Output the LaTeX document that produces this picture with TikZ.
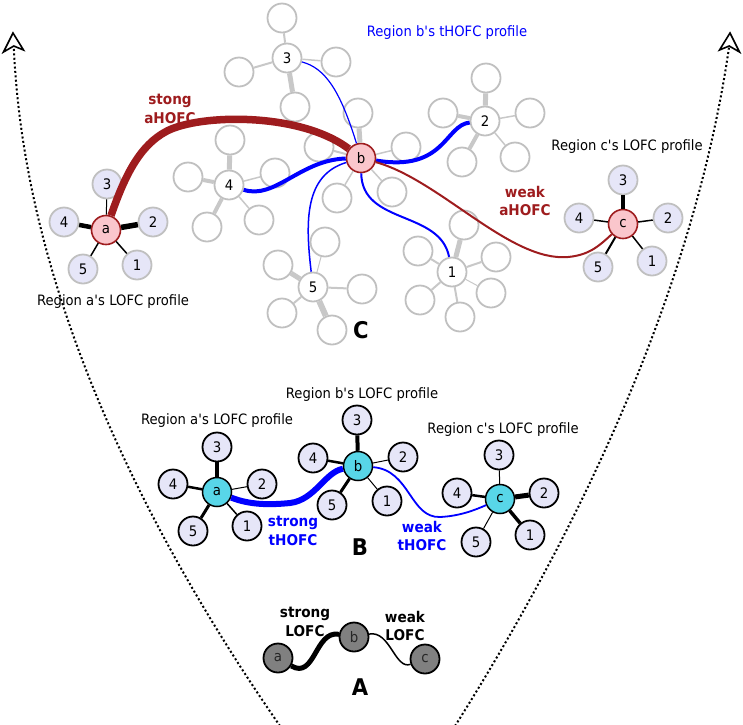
\documentclass[tikz,border=0pt]{standalone}
\usepackage{fontspec}
\setmainfont{DejaVu Sans}[FakeStretch=0.92]
\usetikzlibrary{arrows.meta}
\definecolor{hofcred}{RGB}{158,28,30}
\definecolor{pinkfill}{RGB}{250,198,204}
\definecolor{lav}{RGB}{230,230,248}
\definecolor{satgray}{RGB}{192,192,192}
\definecolor{edgegray}{RGB}{200,200,200}
\definecolor{cyanf}{RGB}{88,214,232}
\definecolor{grayf}{RGB}{128,128,128}
\definecolor{tblue}{RGB}{0,0,255}
\newcommand{\aps}{\textquotesingle}
\tikzset{
 lab/.style={font=\fontsize{14.3}{17}\selectfont, align=center, inner sep=0pt},
 blab/.style={font=\bfseries\fontsize{14.8}{18.5}\selectfont, align=center, inner sep=0pt},
 big/.style={font=\bfseries\fontsize{23}{23}\selectfont, inner sep=0pt},
 nd/.style={circle, minimum size=29pt, inner sep=0pt, font=\fontsize{14.5}{14.5}\selectfont},
 gsat/.style={nd, draw=satgray, line width=1.8pt, fill=white},
 gctr/.style={nd, draw=satgray, line width=1.8pt, fill=white},
 pinkn/.style={nd, draw=hofcred, line width=1.6pt, fill=pinkfill},
 lavC/.style={nd, draw=satgray, line width=1.8pt, fill=lav},
 lavB/.style={nd, draw=black, line width=1.8pt, fill=lav},
 cyann/.style={nd, draw=black, line width=1.5pt, fill=cyanf},
 grayA/.style={nd, draw=black, line width=1.8pt, fill=grayf, text=black!85},
 gedge/.style={draw=edgegray},
 kedge/.style={draw=black},
 dotline/.style={line width=2pt, dash pattern=on 2pt off 2.4pt},
 headshape/.style={line width=1.6pt, line join=miter, fill=white, draw=black}
}
\begin{document}
\begin{tikzpicture}[x=1pt,y=-1pt]
\useasboundingbox (0,0) rectangle (743,724);

% ---- dotted arrows
\coordinate (Lb) at (280,726); \coordinate (Ln) at (13.8,46);
\coordinate (Lt) at (13,33); \coordinate (Lc1) at (3.5,52); \coordinate (Lc2) at (23.5,50);
\draw[dotline] (Lb) .. controls (110,480) and (22,250) .. (Ln);
\draw[headshape] (Lt) -- (Lc1) -- (Ln) -- (Lc2) -- cycle;
\coordinate (Rb) at (455,726); \coordinate (Rn) at (729.2,46);
\coordinate (Rt) at (730,33); \coordinate (Rc1) at (719.5,50); \coordinate (Rc2) at (739.5,52);
\draw[dotline] (Rb) .. controls (610,480) and (700,250) .. (Rn);
\draw[headshape] (Rt) -- (Rc1) -- (Rn) -- (Rc2) -- cycle;

% ================= C =================
% gray star 3
\node[gctr] (g3) at (287,58) {3};
\foreach \n/\x/\y/\w in {g3a/282/18/2, g3b/239/72/2, g3c/336/62/1.5, g3d/295/107/5}
 {\node[gsat] (\n) at (\x,\y) {}; \draw[gedge, line width=\w pt] (g3) -- (\n);}
% pink b
\node[pinkn] (Cb) at (361,158) {b};
\foreach \n/\x/\y/\w in {bA/358/113/5, bB/319/147/2, bC/406/147/1.5, bD/337/198/1.5, bE/392/192/1.5}
 {\node[gsat] (\n) at (\x,\y) {}; \draw[gedge, line width=\w pt] (Cb) -- (\n);}
% gray star 4
\node[gctr] (g4) at (229,185) {4};
\foreach \n/\x/\y/\w in {g4a/230/140/5, g4b/188/177/4, g4c/275/173/1.5, g4d/207/227/4, g4e/259/220/1.5}
 {\node[gsat] (\n) at (\x,\y) {}; \draw[gedge, line width=\w pt] (g4) -- (\n);}
% gray star 2
\node[gctr] (g2) at (485,121) {2};
\foreach \n/\x/\y/\w in {g2a/486/78/5, g2b/443/113/4, g2c/530/113/1.5, g2d/462/162/4, g2e/515/157/1.5}
 {\node[gsat] (\n) at (\x,\y) {}; \draw[gedge, line width=\w pt] (g2) -- (\n);}
% gray star 5
\node[gctr] (g5) at (313,287) {5};
\foreach \n/\x/\y/\w in {g5a/325/242/1, g5b/278/265/5, g5c/362/289/2, g5d/282/313/2, g5e/332/330/6}
 {\node[gsat] (\n) at (\x,\y) {}; \draw[gedge, line width=\w pt] (g5) -- (\n);}
% gray star 1
\node[gctr] (g1) at (452,272) {1};
\foreach \n/\x/\y/\w in {g1a/464/225/5, g1b/418/251/2, g1c/496/257/2, g1d/491/293/1, g1e/460/317/2, g1f/420/300/2}
 {\node[gsat] (\n) at (\x,\y) {}; \draw[gedge, line width=\w pt] (g1) -- (\n);}

% pink a with LOFC profile
\node[pinkn] (Ca) at (106,230) {a};
\foreach \n/\t/\x/\y/\w in {Ca3/3/107/184/1, Ca4/4/64/222/4.5, Ca2/2/153/222/5.5, Ca5/5/83/269/1.5, Ca1/1/137/265/1.5}
 {\node[lavC] (\n) at (\x,\y) {\t}; \draw[kedge, line width=\w pt] (Ca) -- (\n);}
% pink c with LOFC profile
\node[pinkn] (Cc) at (623,224) {c};
\foreach \n/\t/\x/\y/\w in {Cc3/3/623/180/4.5, Cc4/4/579/218/1.5, Cc2/2/668/218/1.5, Cc5/5/598/267/2, Cc1/1/652/261/1.5}
 {\node[lavC] (\n) at (\x,\y) {\t}; \draw[kedge, line width=\w pt] (Cc) -- (\n);}

% tHOFC curves of b
\draw[tblue, line width=1.2pt] (g3) .. controls (325,68) and (340,90) .. (Cb);
\draw[tblue, line width=4pt] (g4) .. controls (275,200) and (300,160) .. (Cb);
\draw[tblue, line width=1.5pt] (Cb) .. controls (305,175) and (305,220) .. (g5);
\draw[tblue, line width=2pt] (Cb) .. controls (362,225) and (440,210) .. (g1);
\draw[tblue, line width=4pt] (Cb) .. controls (445,172) and (445,125) .. (g2);
% aHOFC curves
\draw[hofcred, line width=7.5pt] (Ca) .. controls (125,175) and (140,145) .. (167,131) .. controls (200,114) and (300,112) .. (Cb);
\draw[hofcred, line width=2pt] (Cb) .. controls (440,180) and (510,262) .. (568,257) .. controls (590,255) and (600,245) .. (Cc);

% labels C
\node[blab, text=hofcred] (lstrongA) at (170,109) {stong\\aHOFC};
\node[blab, text=hofcred] (lweakA) at (525,201) {weak\\aHOFC};
\node[lab] (lCa) at (113,302) {Region a\aps s LOFC profile};
\node[lab] (lCc) at (627,147) {Region c\aps s LOFC profile};
\node[lab, text=tblue] (lCb) at (447,33) {Region b\aps s tHOFC profile};
\node[big] (lC) at (361,330) {C};

% ================= B =================
\node[cyann] (Ba) at (217,492) {a};
\foreach \n/\t/\x/\y/\w in {Ba3/3/217/447/3.5, Ba4/4/173/484/2.5, Ba2/2/262/484/1, Ba5/5/193/531/3, Ba1/1/247/526/1.5}
 {\node[lavB] (\n) at (\x,\y) {\t}; \draw[kedge, line width=\w pt] (Ba) -- (\n);}
\node[cyann] (Bb) at (358,466) {b};
\foreach \n/\t/\x/\y/\w in {Bb3/3/357/420/4, Bb4/4/313/458/2.5, Bb2/2/403/457/1, Bb5/5/332/505/3, Bb1/1/387/501/1}
 {\node[lavB] (\n) at (\x,\y) {\t}; \draw[kedge, line width=\w pt] (Bb) -- (\n);}
\node[cyann] (Bc) at (500,499) {c};
\foreach \n/\t/\x/\y/\w in {Bc3/3/499/455/1, Bc4/4/457/493/2.5, Bc2/2/544/493/5, Bc5/5/476/542/1, Bc1/1/530/535/3.5}
 {\node[lavB] (\n) at (\x,\y) {\t}; \draw[kedge, line width=\w pt] (Bc) -- (\n);}

\draw[tblue, line width=6pt] (Ba) .. controls (250,505) and (270,505) .. (290,503) .. controls (315,500) and (325,472) .. (Bb);
\draw[tblue, line width=1.8pt] (Bb) .. controls (410,470) and (410,518) .. (440,517) .. controls (460,516) and (475,510) .. (Bc);

\node[lab] (lBa) at (217,421) {Region a\aps s LOFC profile};
\node[lab] (lBb) at (362,395) {Region b\aps s LOFC profile};
\node[lab] (lBc) at (503,430) {Region c\aps s LOFC profile};
\node[blab, text=tblue] (lstrongT) at (293,531) {strong\\tHOFC};
\node[blab, text=tblue] (lweakT) at (422,536) {weak\\tHOFC};
\node[big] (lB) at (360,547) {B};

% ================= A =================
\node[grayA] (Aa) at (278,658) {a};
\node[grayA] (Ab) at (354,637) {b};
\node[grayA] (Ac) at (425,659) {c};
\draw[black, line width=5pt] (Aa) .. controls (315,680) and (315,630) .. (Ab);
\draw[black, line width=1.5pt] (Ab) .. controls (390,630) and (395,670) .. (Ac);
\node[blab] (lstrongL) at (305,622) {strong\\LOFC};
\node[blab] (lweakL) at (405,626) {weak\\LOFC};
\node[big] (lA) at (360,687) {A};
\end{tikzpicture}
\end{document}
